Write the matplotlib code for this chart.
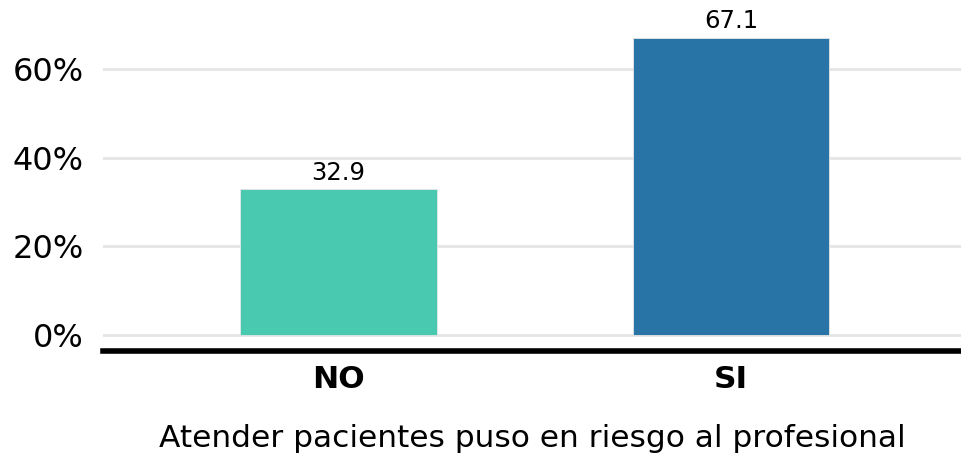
import matplotlib.pyplot as plt
from matplotlib.ticker import FuncFormatter

categorias = ['NO', 'SI']
porcentajes = [32.9, 67.1]
colores = ['#48C9B0', '#2874A6']
ticks_y = [0, 20, 40, 60]

plt.rcParams['font.family'] = ['DejaVu Sans']

fig = plt.figure(figsize=(9.61, 4.62), dpi=100)
ax = fig.add_axes([103 / 961, 1 - 351 / 462, 1 - 103 / 961, 351 / 462])

x = list(range(1, len(categorias) + 1))
barras = ax.bar(x, porcentajes, width=0.5, color=colores,
                edgecolor='#e6e6e6', linewidth=0.6, zorder=3)

for xi, v in zip(x, porcentajes):
    ax.text(xi, v + 1.0, f'{v}', ha='center', va='bottom', fontsize=17.5,
            color='black', zorder=4)

ax.set_xlim(0.4, 2.586)
ax.set_ylim(-3.6, 75.6)
ax.set_xticks(x)
ax.set_xticklabels(categorias, fontsize=22.5, fontweight='bold')
ax.set_yticks(ticks_y)
ax.yaxis.set_major_formatter(FuncFormatter(lambda v, _: f'{v:.0f}%'))
ax.tick_params(axis='y', length=0, pad=14, labelsize=23)
ax.tick_params(axis='x', length=0, pad=10)

ax.grid(axis='y', color='#e5e5e5', linewidth=2, zorder=0)
for lado in ['top', 'right', 'left']:
    ax.spines[lado].set_visible(False)
ax.spines['bottom'].set_linewidth(4)
ax.spines['bottom'].set_color('black')

ax.set_xlabel('Atender pacientes puso en riesgo al profesional',
              fontsize=22.5, labelpad=22)

fig.savefig('out.png', dpi=100)
